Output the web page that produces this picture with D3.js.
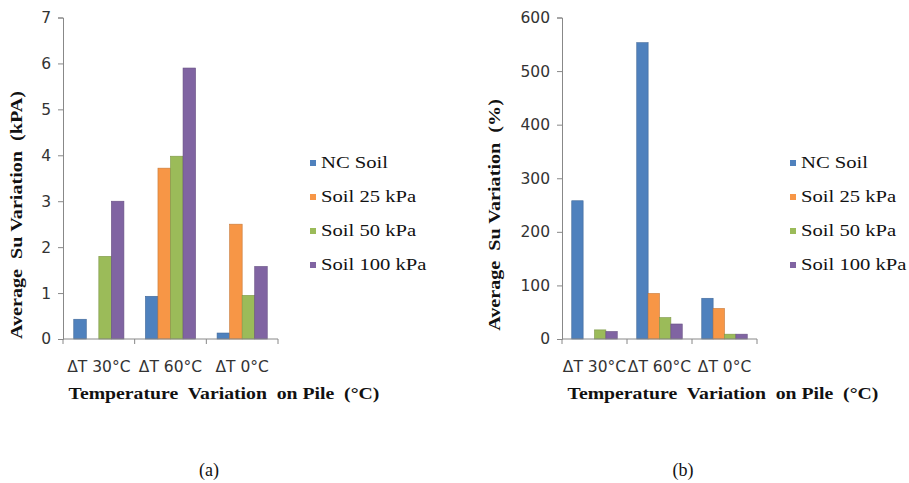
<!DOCTYPE html>
<html>
<head>
<meta charset="utf-8">
<script src="https://cdn.jsdelivr.net/npm/d3@7"></script>
<style>
  body { margin: 0; background: #fff; }
  text { white-space: pre; }
</style>
</head>
<body>
<div id="chart"></div>
<script>
// categories and series
var categories = ["ΔT 30°C", "ΔT 60°C", "ΔT 0°C"];
var seriesNames = ["NC Soil", "Soil 25 kPa", "Soil 50 kPa", "Soil 100 kPa"];
var colors = ["#4f81bd", "#f79646", "#9bbb59", "#8064a2"];

// chart (a) - kPa
var kpaNC = [0.43, 0.93, 0.13];
var kpa25 = [0, 3.72, 2.5];
var kpa50 = [1.8, 3.98, 0.95];
var kpa100 = [3.0, 5.9, 1.58];
var kpaTicks = [0, 1, 2, 3, 4, 5, 6, 7];

// chart (b) - percent
var pctNC = [258, 553, 76];
var pct25 = [0, 85, 57];
var pct50 = [17, 40, 9];
var pct100 = [14, 28, 9];
var pctTicks = [0, 100, 200, 300, 400, 500, 600];

var w = 909, h = 483;

var svg = d3.select("#chart")
    .append("svg")
    .attr("width", w)
    .attr("height", h);

// the serif text in the picture is wider than Liberation Serif, stretch it
function stretch(sel, k){
    sel.each(function(){
        var len = this.getComputedTextLength();
        d3.select(this)
            .attr("textLength", len * k)
            .attr("lengthAdjust", "spacingAndGlyphs");
    });
}

function drawPanel(opt){
    // full-width category bands
    var xb = d3.scaleBand().domain(categories).range([opt.left, opt.right]);
    var y = d3.scaleLinear().domain([0, opt.ticks[opt.ticks.length - 1]]).range([339, 17.5]);
    var sub = d3.scaleBand().domain(seriesNames).range([0, xb.bandwidth() * 0.7]);

    var g = svg.append("g");

    //  DRAW BARS
    var rows = [];
    categories.forEach(function(c, i){
        opt.series.forEach(function(s, j){
            rows.push({cat: c, name: seriesNames[j], value: s[i], color: colors[j]});
        });
    });
    g.selectAll("rect.bar")
        .data(rows)
        .enter()
        .append("rect")
        .attr("class", "bar")
        .attr("x", function(d){ return xb(d.cat) + xb.bandwidth() * 0.15 + sub(d.name); })
        .attr("y", function(d){ return y(d.value); })
        .attr("width", sub.bandwidth())
        .attr("height", function(d){ return y(0) - y(d.value); })
        .attr("fill", function(d){ return d.color; })
        .attr("stroke", function(d){ return d3.color(d.color).darker(0.6); })
        .attr("stroke-width", 0.6);

    // y axis
    var yAxis = d3.axisLeft(y).tickValues(opt.ticks).tickFormat(d3.format("d")).tickSize(5).tickPadding(7);
    var ya = g.append("g")
        .attr("transform", "translate(" + opt.left + ",0)")
        .call(yAxis);
    ya.select(".domain").attr("stroke", "#888");
    ya.selectAll(".tick line").attr("stroke", "#888");
    ya.selectAll(".tick text")
        .attr("font-family", "DejaVu Sans")
        .attr("font-size", 15.5)
        .attr("fill", "#333");

    // x axis, ticks at category boundaries
    var xa = g.append("g").attr("transform", "translate(0," + y(0) + ")");
    xa.append("line")
        .attr("x1", opt.left).attr("x2", opt.right)
        .attr("stroke", "#888");
    var bounds = categories.map(function(c){ return xb(c); }).concat([opt.right]);
    xa.selectAll("line.tk")
        .data(bounds)
        .enter()
        .append("line")
        .attr("class", "tk")
        .attr("x1", function(d){ return d; })
        .attr("x2", function(d){ return d; })
        .attr("y1", 0).attr("y2", 5)
        .attr("stroke", "#888");
    xa.selectAll("text")
        .data(categories)
        .enter()
        .append("text")
        .attr("x", function(d){ return xb(d) + xb.bandwidth() / 2; })
        .attr("y", 33)
        .attr("text-anchor", "middle")
        .attr("font-family", "DejaVu Sans")
        .attr("font-size", 15.5)
        .attr("fill", "#333")
        .text(function(d){ return d; });

    // axis titles
    g.append("text")
        .attr("x", opt.xTitleX)
        .attr("y", 399)
        .attr("text-anchor", "middle")
        .attr("font-family", "Liberation Serif")
        .attr("font-weight", "bold")
        .attr("font-size", 17)
        .attr("fill", "#111")
        .text("Temperature  Variation  on Pile  (°C)")
        .call(stretch, 1.16);
    g.append("text")
        .attr("transform", "translate(" + opt.yTitleX + ",215) rotate(-90)")
        .attr("text-anchor", "middle")
        .attr("font-family", "Liberation Serif")
        .attr("font-weight", "bold")
        .attr("font-size", 16.5)
        .attr("fill", "#111")
        .text(opt.yTitle)
        .call(stretch, 1.22);

    // legend
    var lg = g.selectAll("g.leg")
        .data(seriesNames)
        .enter()
        .append("g")
        .attr("class", "leg")
        .attr("transform", function(d, i){ return "translate(" + opt.legX + "," + (163 + i * 34) + ")"; });
    lg.append("rect")
        .attr("x", 0).attr("y", -3)
        .attr("width", 6).attr("height", 6)
        .attr("fill", function(d, i){ return colors[i]; });
    lg.append("text")
        .attr("x", 11)
        .attr("y", 5)
        .attr("font-family", "Liberation Serif")
        .attr("font-size", 16.5)
        .attr("fill", "#111")
        .text(function(d){ return d; })
        .call(stretch, 1.25);

    // caption
    g.append("text")
        .attr("x", opt.capX)
        .attr("y", 476)
        .attr("text-anchor", "middle")
        .attr("font-family", "Liberation Serif")
        .attr("font-size", 18)
        .attr("fill", "#111")
        .text(opt.caption);
}

drawPanel({
    left: 63, right: 278,
    series: [kpaNC, kpa25, kpa50, kpa100],
    ticks: kpaTicks,
    xTitleX: 224, yTitleX: 22,
    yTitle: "Average  Su Variation  (kPA)",
    legX: 310, capX: 209, caption: "(a)"
});

drawPanel({
    left: 562, right: 757,
    series: [pctNC, pct25, pct50, pct100],
    ticks: pctTicks,
    xTitleX: 723, yTitleX: 500,
    yTitle: "Average  Su Variation  (%)",
    legX: 790, capX: 683, caption: "(b)"
});
</script>
</body>
</html>
